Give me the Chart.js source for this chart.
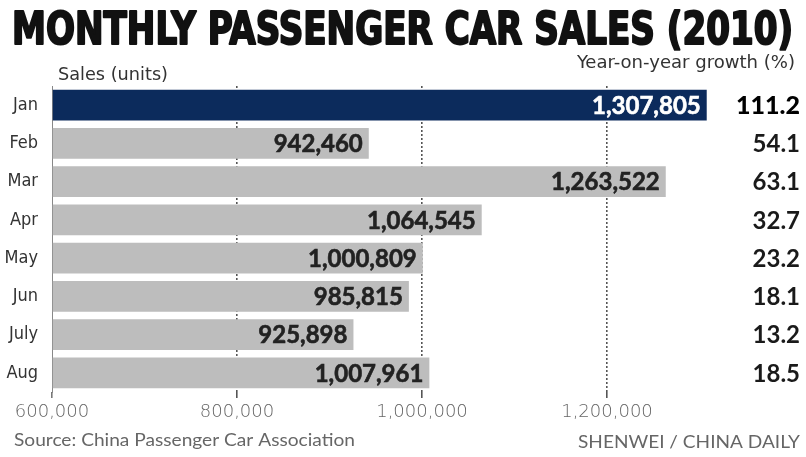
<!DOCTYPE html>
<html>
<head>
<meta charset="utf-8">
<script src="https://cdn.jsdelivr.net/npm/chart.js@4"></script>
<style>
  html, body { margin: 0; padding: 0; background: #fff; }
  canvas { display: block; }
</style>
</head>
<body>
<canvas id="myChart1" width="806" height="457"></canvas>
<script>
// data
const months = ['Jan', 'Feb', 'Mar', 'Apr', 'May', 'Jun', 'July', 'Aug'];
const sales = [1307805, 942460, 1263522, 1064545, 1000809, 985815, 925898, 1007961];
const growth = ['111.2', '54.1', '63.1', '32.7', '23.2', '18.1', '13.2', '18.5'];
const xTicks = [600000, 800000, 1000000, 1200000];

const NAVY = '#0c2b5c';
const GREY = '#bdbdbd';

// draw text squeezed/stretched to a given width
function fitText(ctx, text, x, y, width, font, color, align, stroke) {
    ctx.save();
    ctx.font = font;
    ctx.fillStyle = color;
    ctx.textBaseline = 'alphabetic';
    ctx.textAlign = 'left';
    const w = ctx.measureText(text).width;
    const sx = width / w;
    let left = x;
    if (align === 'right') left = x - width;
    ctx.translate(left, y);
    ctx.scale(sx, 1);
    ctx.fillText(text, 0, 0);
    if (stroke) {
        ctx.strokeStyle = color;
        ctx.lineWidth = stroke;
        ctx.lineJoin = 'round';
        ctx.strokeText(text, 0, 0);
    }
    ctx.restore();
}

const textPlugin = {
    id: 'textPlugin',
    afterDatasetsDraw(chart) {
        const ctx = chart.ctx;
        const meta = chart.getDatasetMeta(0);

        // value labels inside bar ends + growth column
        meta.data.forEach((bar, i) => {
            ctx.save();
            ctx.font = 'bold 24px Lato';
            ctx.textAlign = 'right';
            ctx.textBaseline = 'middle';
            ctx.fillStyle = i === 0 ? '#ffffff' : '#222222';
            ctx.fillText(sales[i].toLocaleString('en-US'), bar.x - 6, bar.y + 1);
            ctx.strokeStyle = ctx.fillStyle;
            ctx.lineWidth = 0.6;
            ctx.strokeText(sales[i].toLocaleString('en-US'), bar.x - 6, bar.y + 1);

            ctx.font = i === 0 ? '900 25px Lato' : 'bold 24px Lato';
            ctx.fillStyle = i === 0 ? '#000000' : '#1a1a1a';
            ctx.fillText(growth[i], 800, bar.y + 1);
            ctx.restore();
        });

        // title, sub-labels, footer
        fitText(ctx, 'MONTHLY PASSENGER CAR SALES (2010)', 12, 44, 781,
            'bold 44px "DejaVu Sans Condensed", "Liberation Sans Narrow", sans-serif', '#111', 'left', 2);
        fitText(ctx, 'Sales (units)', 58, 80, 110,
            '17px "Liberation Sans Narrow", "DejaVu Sans Condensed", sans-serif', '#333', 'left');
        fitText(ctx, 'Year-on-year growth (%)', 795, 68, 218,
            '17px "Liberation Sans Narrow", "DejaVu Sans Condensed", sans-serif', '#333', 'right');
        fitText(ctx, 'Source: China Passenger Car Association', 14, 446, 341,
            '17px Lato', '#666', 'left');
        fitText(ctx, 'SHENWEI / CHINA DAILY', 800, 448, 222,
            '17px Lato', '#666', 'right');
    }
};

function drawChart1() {
    const ctx = document.getElementById('myChart1').getContext('2d');

    const config = {
        type: 'bar',
        data: {
            labels: months,
            datasets: [{
                data: sales,
                backgroundColor: sales.map((v, i) => i === 0 ? NAVY : GREY),
                borderWidth: 0,
                categoryPercentage: 1,
                barPercentage: 0.81,
                base: 600000
            }]
        },
        options: {
            indexAxis: 'y',
            responsive: false,
            animation: false,
            layout: {
                padding: { top: 86, right: 14, left: 0, bottom: 0 }
            },
            plugins: {
                legend: { display: false },
                tooltip: { enabled: false }
            },
            scales: {
                x: {
                    min: 600000,
                    max: 1400000,
                    afterBuildTicks: (scale) => {
                        scale.ticks = xTicks.map(v => ({ value: v }));
                    },
                    afterFit: (scale) => { scale.height = 65; },
                    grid: {
                        color: (c) => (c.tick && c.tick.value === 600000) ? 'rgba(0,0,0,0)' : '#555',
                        lineWidth: 1.6,
                        tickLength: 6,
                        tickColor: (c) => (c.tick && c.tick.value === 600000) ? '#777' : '#555'
                    },
                    border: { display: false, dash: [2, 2] },
                    ticks: {
                        padding: 4,
                        color: '#666',
                        font: { family: 'DejaVu Sans', size: 18, weight: '300' },
                        callback: (v) => Number(v).toLocaleString('en-US')
                    }
                },
                y: {
                    afterFit: (scale) => { scale.width = 52; },
                    grid: { display: false },
                    border: { display: true, color: '#888', width: 1 },
                    ticks: {
                        padding: 6,
                        color: '#333',
                        font: { family: '"Liberation Sans Narrow", "DejaVu Sans Condensed", sans-serif', size: 18 }
                    }
                }
            }
        },
        plugins: [textPlugin]
    };

    new Chart(ctx, config);
}

drawChart1();
</script>
</body>
</html>
